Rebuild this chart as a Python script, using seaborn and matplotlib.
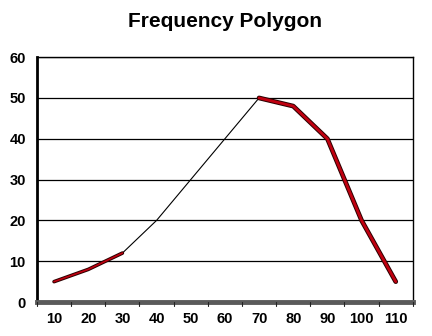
import matplotlib
matplotlib.use("Agg")
import matplotlib.pyplot as plt
import seaborn as sns
import pandas as pd

categories = ["10", "20", "30", "40", "50", "60", "70", "80", "90", "100", "110"]
frequency = [5, 8, 12, 20, 30, 40, 50, 48, 40, 20, 5]
y_ticks = [0, 10, 20, 30, 40, 50, 60]

sns.set_theme(style="white")
plt.rcParams["font.family"] = ["Liberation Sans", "DejaVu Sans"]
plt.rcParams["text.color"] = "black"
plt.rcParams["xtick.color"] = "black"
plt.rcParams["ytick.color"] = "black"

df = pd.DataFrame({"pos": range(len(categories)), "freq": frequency})

fig = plt.figure(figsize=(4.32, 3.36), dpi=100)
ax = fig.add_axes([0.0856, 0.101, 0.870, 0.729])

# thin black connecting line across all classes
sns.lineplot(data=df, x="pos", y="freq", ax=ax, color="black", linewidth=0.8,
             zorder=3)

# emphasised segments: red stroke with dark outline
for sub, w in ((df.iloc[0:3], 2.6), (df.iloc[6:11], 3.4)):
    sns.lineplot(data=sub, x="pos", y="freq", ax=ax, color="#2a0000",
                 linewidth=w, zorder=4)
    sns.lineplot(data=sub, x="pos", y="freq", ax=ax, color="#c00010",
                 linewidth=w - 1.4, zorder=5)

ax.set_xlim(-0.5, len(categories) - 0.5)
ax.set_ylim(0, 60)
ax.set_yticks(y_ticks)
ax.set_yticklabels([str(v) for v in y_ticks], fontsize=10.5, fontweight="bold",
                   color="black")
ax.set_xticks(range(len(categories)))
ax.set_xticklabels(categories, fontsize=10.5, fontweight="bold", color="black")
ax.tick_params(axis="both", length=0)
ax.tick_params(axis="x", pad=7)
ax.tick_params(axis="y", pad=8)
ax.set_xlabel("")
ax.set_ylabel("")

# horizontal gridlines
for v in y_ticks[1:]:
    ax.axhline(v, color="black", linewidth=0.9, zorder=1)

for side in ("top", "right"):
    ax.spines[side].set_color("black")
    ax.spines[side].set_linewidth(1.0)
ax.spines["left"].set_color("black")
ax.spines["left"].set_linewidth(2.0)
ax.spines["bottom"].set_color("#5a5a5a")
ax.spines["bottom"].set_linewidth(3.5)

# boundary marks on the floor between classes
for b in range(len(categories) + 1):
    ax.plot([b - 0.5, b - 0.5], [0, -0.9], color="#222222", linewidth=0.8,
            clip_on=False, zorder=6)

fig.text(0.52, 0.935, "Frequency Polygon", ha="center", va="center",
         fontsize=15, fontweight="bold", color="black")

fig.savefig("out.png", dpi=100, facecolor="white")
